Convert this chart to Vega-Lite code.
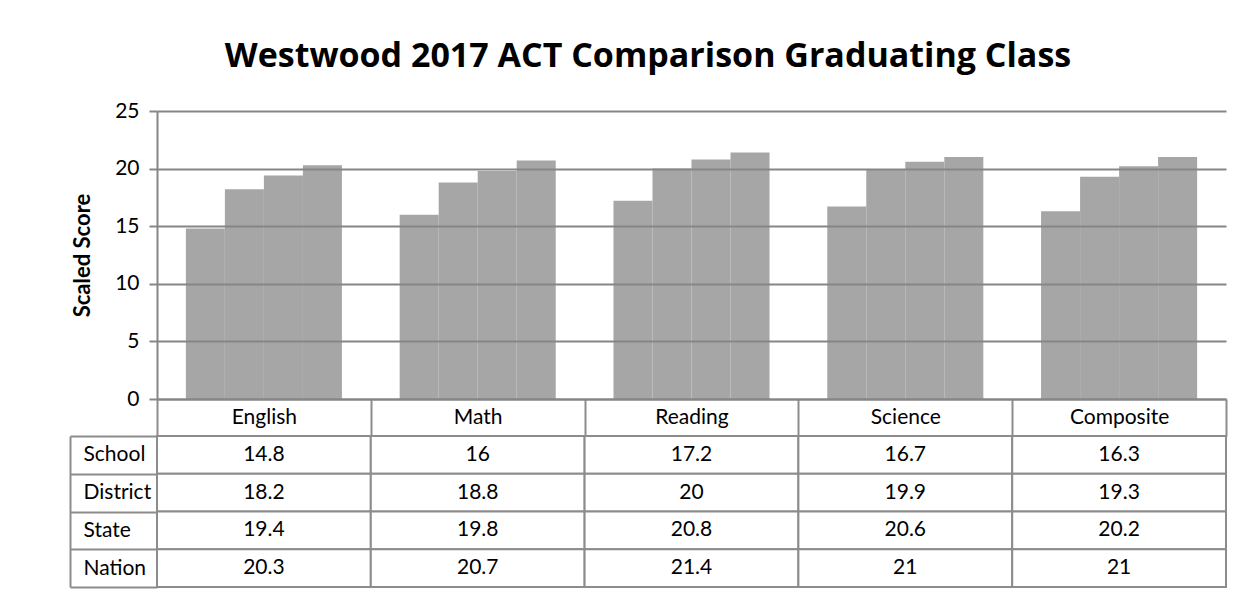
{
  "$schema": "https://vega.github.io/schema/vega-lite/v6.json",
  "padding": {"top": 40, "left": 69, "right": 20, "bottom": 5},
  "background": "white",
  "title": {"text": "Westwood 2017 ACT Comparison  Graduating Class", "font": "Open Sans", "fontSize": 34, "fontWeight": "bold", "color": "#000000", "anchor": "middle", "offset": 26},
  "datasets": {
    "scores": [
      {"subject": "English", "group": "School", "score": 14.8},
      {"subject": "English", "group": "District", "score": 18.2},
      {"subject": "English", "group": "State", "score": 19.4},
      {"subject": "English", "group": "Nation", "score": 20.3},
      {"subject": "Math", "group": "School", "score": 16},
      {"subject": "Math", "group": "District", "score": 18.8},
      {"subject": "Math", "group": "State", "score": 19.8},
      {"subject": "Math", "group": "Nation", "score": 20.7},
      {"subject": "Reading", "group": "School", "score": 17.2},
      {"subject": "Reading", "group": "District", "score": 20},
      {"subject": "Reading", "group": "State", "score": 20.8},
      {"subject": "Reading", "group": "Nation", "score": 21.4},
      {"subject": "Science", "group": "School", "score": 16.7},
      {"subject": "Science", "group": "District", "score": 19.9},
      {"subject": "Science", "group": "State", "score": 20.6},
      {"subject": "Science", "group": "Nation", "score": 21},
      {"subject": "Composite", "group": "School", "score": 16.3},
      {"subject": "Composite", "group": "District", "score": 19.3},
      {"subject": "Composite", "group": "State", "score": 20.2},
      {"subject": "Composite", "group": "Nation", "score": 21}
    ]
  },
  "bounds": "flush",
  "spacing": 37,
  "vconcat": [
    {
      "width": 1069,
      "height": 288,
      "data": {"name": "scores"},
      "mark": {"type": "bar", "color": "#a6a6a6"},
      "encoding": {
        "x": {
          "field": "subject", "type": "nominal",
          "sort": ["English", "Math", "Reading", "Science", "Composite"],
          "scale": {"paddingInner": 0, "paddingOuter": 0},
          "axis": {"orient": "bottom", "title": null, "labelAngle": 0, "labelFont": "Lato", "labelFontSize": 21, "labelColor": "#000000", "labelBaseline": "middle", "labelPadding": -19, "tickBand": "extent", "tickSize": 37, "tickColor": "#8c8c8c", "tickWidth": 2, "domainColor": "#868686", "domainWidth": 2, "zindex": 1}
        },
        "xOffset": {
          "field": "group", "type": "nominal",
          "sort": ["School", "District", "State", "Nation"],
          "scale": {"paddingInner": 0, "paddingOuter": 0.74}
        },
        "y": {
          "field": "score", "type": "quantitative",
          "scale": {"domain": [0, 25]},
          "axis": {"values": [0, 5, 10, 15, 20, 25], "title": "Scaled Score", "titleFont": "Lato", "titleFontSize": 22, "titleFontWeight": "bold", "titleColor": "#000000", "titlePadding": 20, "labelFont": "Lato", "labelFontSize": 21, "labelColor": "#000000", "labelPadding": 10, "tickSize": 8, "tickColor": "#868686", "tickWidth": 2, "domainColor": "#868686", "domainWidth": 2, "gridColor": "#868686", "gridWidth": 2, "zindex": 1}
        }
      }
    },
    {
      "width": 1069,
      "height": 151,
      "data": {"name": "scores"},
      "encoding": {
        "x": {"field": "subject", "type": "nominal", "sort": ["English", "Math", "Reading", "Science", "Composite"], "scale": {"paddingInner": 0, "paddingOuter": 0}, "axis": null},
        "y": {
          "field": "group", "type": "nominal", "sort": ["School", "District", "State", "Nation"],
          "scale": {"paddingInner": 0, "paddingOuter": 0},
          "axis": {"orient": "left", "title": null, "offset": 87, "tickSize": -87, "tickBand": "extent", "labelAlign": "left", "labelPadding": 74, "labelFont": "Lato", "labelFontSize": 21, "labelColor": "#000000", "domainColor": "#8c8c8c", "domainWidth": 2, "tickColor": "#8c8c8c", "tickWidth": 2}
        }
      },
      "layer": [
        {"mark": {"type": "rect", "fill": "white", "stroke": "#8c8c8c", "strokeWidth": 2}},
        {"mark": {"type": "text", "font": "Lato", "fontSize": 21, "color": "#000000"}, "encoding": {"text": {"field": "score", "type": "quantitative"}}}
      ]
    }
  ],
  "config": {"view": {"stroke": null}}
}
